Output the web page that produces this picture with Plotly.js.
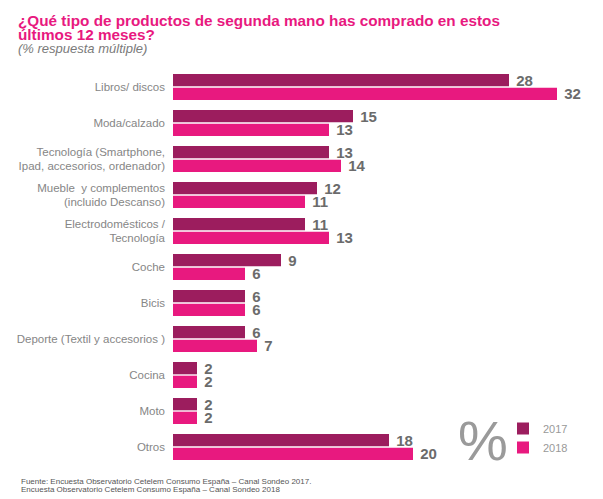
<!DOCTYPE html>
<html>
<head>
<meta charset="utf-8">
<script src="https://cdn.plot.ly/plotly-3.0.1.min.js"></script>
<style>html,body{margin:0;padding:0;background:#fff;}#chart{width:603px;height:499px;}</style>
</head>
<body>
<div id="chart"></div>
<script>
const categories = [
  "Libros/ discos",
  "Moda/calzado",
  "Tecnología (Smartphone,<br>Ipad, accesorios, ordenador)",
  "Mueble  y complementos<br>(incluido Descanso)",
  "Electrodomésticos /<br>Tecnología",
  "Coche",
  "Bicis",
  "Deporte (Textil y accesorios )",
  "Cocina",
  "Moto",
  "Otros"
];
const values2017 = [28, 15, 13, 12, 11, 9, 6, 6, 2, 2, 18];
const values2018 = [32, 13, 14, 11, 13, 6, 6, 7, 2, 2, 20];
const seriesNames = ["2017", "2018"];
const seriesColors = ["#9c1d5e", "#e8197f"];

const W = 603, H = 499;
const L = 173, R = 10, T = 69, B = 34;
const pw = W - L - R, ph = H - T - B;
const px = x => (x - L) / pw;
const py = y => (H - B - y) / ph;

function barTrace(name, vals, color) {
  return {
    type: "bar",
    orientation: "h",
    name: name,
    y: categories,
    x: vals,
    marker: {color: color},
    text: vals.map(v => "\u00a0" + v),
    textposition: "outside",
    constraintext: "none",
    cliponaxis: false,
    textfont: {family: "Liberation Sans, Arial, sans-serif", size: 15, color: "#6b6b6b", weight: "bold"},
    hoverinfo: "x+y+name"
  };
}

const data = [
  barTrace(seriesNames[0], values2017, seriesColors[0]),
  barTrace(seriesNames[1], values2018, seriesColors[1])
];

const annFont = "Liberation Sans, Arial, sans-serif";
const layout = {
  width: W, height: H,
  margin: {l: L, r: R, t: T, b: B, pad: 0},
  paper_bgcolor: "#fff",
  plot_bgcolor: "#fff",
  barmode: "group",
  bargap: 0.24,
  bargroupgap: 0.1,
  showlegend: true,
  legend: {
    x: px(503), y: py(414), xanchor: "left", yanchor: "top",
    font: {family: annFont, size: 11, color: "#999"},
    bgcolor: "rgba(0,0,0,0)",
    itemclick: false, itemdoubleclick: false
  },
  xaxis: {
    range: [0, 35],
    visible: false,
    showgrid: false, zeroline: false, fixedrange: true
  },
  yaxis: {
    type: "category",
    autorange: "reversed",
    showgrid: false, zeroline: false, showline: false,
    ticks: "",
    ticklabelstandoff: 7,
    tickfont: {family: annFont, size: 11.5, color: "#868686"},
    fixedrange: true
  },
  annotations: [
    {xref: "paper", yref: "paper", x: px(16), y: py(20), xanchor: "left", yanchor: "middle", showarrow: false,
     text: "<b>¿Qué tipo de productos de segunda mano has comprado en estos</b>",
     font: {family: annFont, size: 15.3, color: "#e8197f"}},
    {xref: "paper", yref: "paper", x: px(16), y: py(34.5), xanchor: "left", yanchor: "middle", showarrow: false,
     text: "<b>últimos 12 meses?</b>",
     font: {family: annFont, size: 15.3, color: "#e8197f"}},
    {xref: "paper", yref: "paper", x: px(16), y: py(49), xanchor: "left", yanchor: "middle", showarrow: false,
     text: "<i>(% respuesta múltiple)</i>",
     font: {family: annFont, size: 13, color: "#7a7a7a"}},
    {xref: "paper", yref: "paper", x: px(483), y: py(440), xanchor: "center", yanchor: "middle", showarrow: false,
     text: "%",
     font: {family: annFont, size: 56, color: "#9a9a9a"}},
    {xref: "paper", yref: "paper", x: px(19), y: py(481), xanchor: "left", yanchor: "middle", showarrow: false,
     text: "Fuente: Encuesta Observatorio Cetelem Consumo España – Canal Sondeo 2017.",
     font: {family: annFont, size: 8, color: "#555"}},
    {xref: "paper", yref: "paper", x: px(19), y: py(489.5), xanchor: "left", yanchor: "middle", showarrow: false,
     text: "Encuesta Observatorio Cetelem Consumo España – Canal Sondeo 2018",
     font: {family: annFont, size: 8, color: "#555"}}
  ]
};

Plotly.newPlot("chart", data, layout, {displayModeBar: false, staticPlot: true});
</script>
</body>
</html>
